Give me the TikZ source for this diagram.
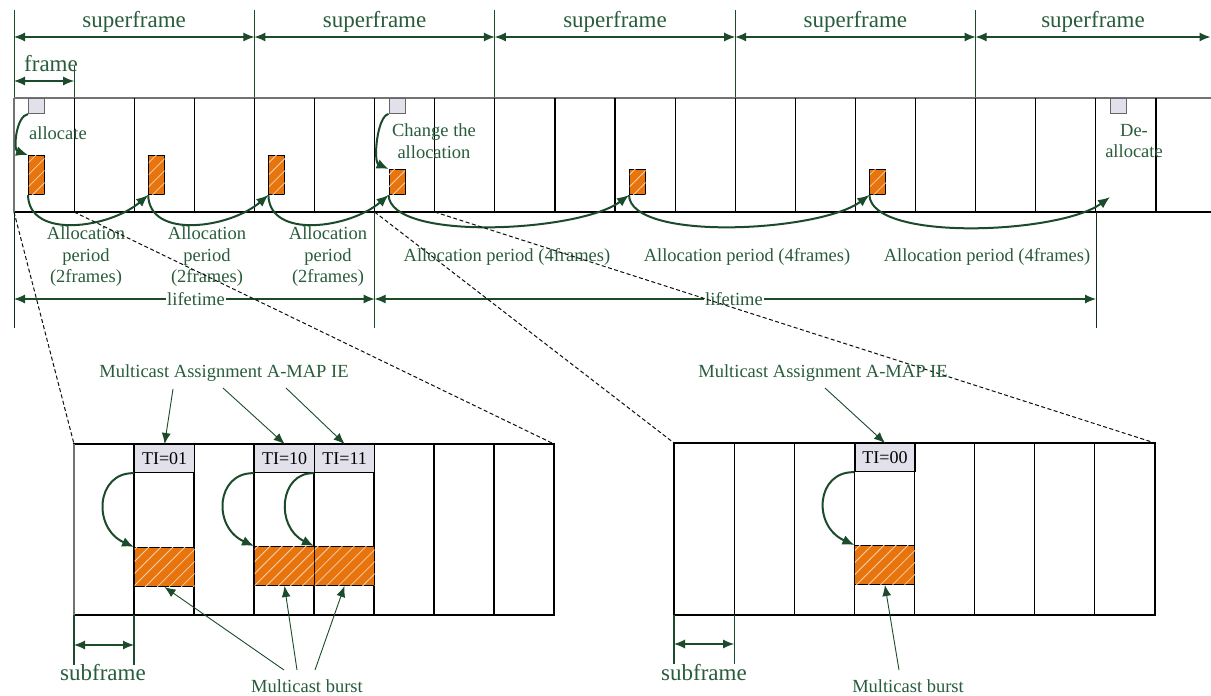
\documentclass[tikz,border=0pt]{standalone}
\usepackage{fontspec}
\setmainfont{Liberation Serif}
\usetikzlibrary{arrows.meta,patterns.meta}
\definecolor{grn}{RGB}{27,75,42}
\definecolor{txtg}{RGB}{40,92,58}
\definecolor{burstc}{RGB}{232,116,14}
\definecolor{hatchc}{RGB}{248,210,175}
\definecolor{mapf}{RGB}{226,224,234}
\tikzset{
  big/.style={font=\fontsize{23}{26}\selectfont, text=txtg, inner sep=0},
  mid/.style={font=\fontsize{18.5}{21.5}\selectfont, text=txtg, inner sep=0, align=center},
  gridline/.style={line width=1.2pt, black},
  greyline/.style={line width=1.2pt, black!55},
  dimarr/.style={grn, line width=1.1pt, {Latex[length=11pt,width=9pt]}-{Latex[length=11pt,width=9pt]}},
  guide/.style={grn, line width=1pt},
  carr/.style={grn, line width=2pt, -{Latex[length=12pt,width=10pt]}},
  tarr/.style={grn, line width=0.9pt, -{Latex[length=11pt,width=9pt]}},
  zoomline/.style={black!75!grn, line width=1pt, dash pattern=on 4pt off 2.5pt},
  burstbox/.style={draw=black, line width=1pt, fill=burstc, inner sep=0, anchor=north west,
     postaction={pattern={Lines[angle=45,distance=8.5pt,line width=0.8pt]}, pattern color=hatchc}},
  mapbox/.style={draw=black!60, line width=1pt, fill=mapf, inner sep=0, anchor=north west,
     minimum width=16pt, minimum height=15pt},
  tibox/.style={draw=black, line width=1.2pt, fill=mapf, inner sep=0, anchor=north west,
     minimum width=60pt, minimum height=28pt, font=\fontsize{18}{20}\selectfont},
}
\begin{document}
\begin{tikzpicture}[x=1pt,y=-1pt]
\useasboundingbox (0,0) rectangle (1211,696);

% ---------- superframes ----------
\foreach \i in {0,...,4} {
  \draw[guide] ({14+240.4*\i},10) -- ({14+240.4*\i},98);
  \coordinate (sa\i) at ({14+240.4*\i},37);
}
\coordinate (sa5) at (1210.5,37);
\foreach \i [count=\j] in {0,...,4} \draw[dimarr] (sa\i) -- (sa\j);
\foreach \i in {0,...,3} \node[big] (sf\i) at ({134.2+240.4*\i},22) {superframe};
\node[big] (sf4) at (1093,22) {superframe};

% ---------- frame ----------
\draw[guide] (74.1,66) -- (74.1,98);
\coordinate (fa) at (14,81);
\coordinate (fb) at (74.1,81);
\draw[dimarr] (fa) -- (fb);
\node[big] (fr) at (51,64) {frame};

% ---------- timeline ----------
\draw[greyline] (14,98) -- (1211,98);
\draw[gridline] (14,212) -- (1211,212);
\draw[greyline] (14,98) -- (14,212);
\foreach \i in {1,...,19} \draw[gridline] ({14+60.1*\i},98) -- ({14+60.1*\i},212);

% MAP boxes
\node[mapbox] (m1) at (28,98) {};
\node[mapbox] (m2) at (388.6,98) {};
\node[mapbox] (m3) at (1110,98) {};

% bursts
\node[burstbox, minimum width=16pt, minimum height=39pt] (b1) at (28,155) {};
\node[burstbox, minimum width=16pt, minimum height=39pt] (b2) at (148.2,155) {};
\node[burstbox, minimum width=16pt, minimum height=39pt] (b3) at (268.4,155) {};
\node[burstbox, minimum width=16pt, minimum height=25pt] (b4) at (388.6,169) {};
\node[burstbox, minimum width=16pt, minimum height=25pt] (b5) at (629,169) {};
\node[burstbox, minimum width=16pt, minimum height=25pt] (b6) at (869.4,169) {};
\coordinate (dl) at (1110,197);

% labels in timeline
\node[mid] (alc) at (58,133) {allocate};
\node[mid] (chg) at (434,141) {Change the\\allocation};
\node[mid] (dea) at (1134,141) {De-\\allocate};

% curved arrows
\draw[carr] (m1.south west) .. controls (16,116) and (13,150) .. (b1.north west);
\draw[carr] (m2.south west) .. controls (377,116) and (373,162) .. (b4.north west);
\draw[carr] (b1.south west) .. controls (29,240) and (110,228) .. (b2.south west);
\draw[carr] (b2.south west) .. controls (149.2,240) and (230.2,228) .. (b3.south west);
\draw[carr] (b3.south west) .. controls (269.4,240) and (350.4,228) .. (b4.south west);
\draw[carr] (b4.south west) .. controls (390,242) and (580,232) .. (b5.south west);
\draw[carr] (b5.south west) .. controls (630,242) and (820,232) .. (b6.south west);
\draw[carr] (b6.south west) .. controls (871,242) and (1060,234) .. (dl);

% allocation period labels
\node[mid] (ap1) at (86,257) {Allocation\\period\\(2frames)};
\node[mid] (ap2) at (207,257) {Allocation\\period\\(2frames)};
\node[mid] (ap3) at (328,257) {Allocation\\period\\(2frames)};
\node[mid] (ap4) at (507,257) {Allocation period (4frames)};
\node[mid] (ap5) at (747,257) {Allocation period (4frames)};
\node[mid] (ap6) at (987,257) {Allocation period (4frames)};

% lifetime
\draw[guide, black!40!grn] (14,212) -- (14,328);
\draw[guide] (374.6,212) -- (374.6,328);
\draw[guide, black!40!grn] (1096,212) -- (1096,328);
\coordinate (l0) at (14,299);
\coordinate (l1) at (374.6,299);
\coordinate (l2) at (1096,299);
\draw[dimarr] (l0) -- (l1);
\draw[dimarr] (l1) -- (l2);
\node[mid, fill=white, inner sep=1pt] (lt1) at (196,299) {lifetime};
\node[mid, fill=white, inner sep=1pt] (lt2) at (734,299) {lifetime};

% ---------- zoom lines ----------
\coordinate (za) at (14,212);
\coordinate (zb) at (74.1,212);
\coordinate (zc) at (374.6,212);
\coordinate (zd) at (434.7,212);
\coordinate (pa) at (74,444);
\coordinate (pb) at (554,444);
\coordinate (pc) at (674,443);
\coordinate (pd) at (1155,443);
\draw[zoomline] (za) -- (pa);
\draw[zoomline] (zb) -- (pb);
\draw[zoomline] (zc) -- (pc);
\draw[zoomline] (zd) -- (pd);

% ---------- left panel ----------
\draw[gridline] (74,444) rectangle (554,615);
\draw[greyline] (74,444) -- (74,615);
\foreach \i in {1,...,7} \draw[gridline] ({74+60*\i},444) -- ({74+60*\i},615);
\node[tibox] (t1) at (134,444) {TI=01};
\node[tibox] (t2) at (254,444) {TI=10};
\node[tibox] (t3) at (314,444) {TI=11};
\node[burstbox, minimum width=60pt, minimum height=39pt] (p1) at (134,547) {};
\node[burstbox, minimum width=60pt, minimum height=39pt] (p2) at (254,546) {};
\node[burstbox, minimum width=60pt, minimum height=39pt] (p3) at (314,546) {};
\draw[carr] (t1.south west) .. controls (96,472) and (92,528) .. (p1.north west);
\draw[carr] (t2.south west) .. controls (216,472) and (212,527) .. (p2.north west);
\draw[carr] (t3.south west) .. controls (279,472) and (275,527) .. (p3.north west);

\node[mid] (ma1) at (224,373) {Multicast Assignment A-MAP IE};
\coordinate (ma1a) at (173,389);
\coordinate (ma1b) at (223,388);
\coordinate (ma1c) at (286,388);
\draw[tarr] (ma1a) -- (t1.north);
\draw[tarr] (ma1b) -- (t2.north);
\draw[tarr] (ma1c) -- (t3.north);

\node[mid] (mb1) at (307,686) {Multicast burst};
\coordinate (mb1a) at (284,670);
\coordinate (mb1b) at (297,670);
\coordinate (mb1c) at (315,670);
\draw[tarr] (mb1a) -- (p1.south);
\draw[tarr] (mb1b) -- (p2.south);
\draw[tarr] (mb1c) -- (p3.south);

\draw[guide, line width=1.2pt] (74,615) -- (74,665);
\draw[guide, line width=1.2pt] (134,615) -- (134,665);
\coordinate (sb0) at (74,645);
\coordinate (sb1) at (134,645);
\draw[dimarr] (sb0) -- (sb1);
\node[big] (sbl1) at (103,673) {subframe};

% ---------- right panel ----------
\draw[gridline] (674,443) rectangle (1155,615);
\foreach \i in {1,...,7} \draw[gridline] ({674+60.125*\i},443) -- ({674+60.125*\i},615);
\node[tibox] (t4) at (854.4,443) {TI=00};
\node[burstbox, minimum width=60pt, minimum height=39pt] (p4) at (854.4,545) {};
\draw[carr] (t4.south west) .. controls (816,471) and (812,526) .. (p4.north west);

\node[mid] (ma2) at (823,373) {Multicast Assignment A-MAP IE};
\coordinate (ma2a) at (825,388);
\draw[tarr] (ma2a) -- (t4.north);
\node[mid] (mb2) at (908,686) {Multicast burst};
\coordinate (mb2a) at (899,670);
\draw[tarr] (mb2a) -- (p4.south);

\draw[guide, line width=1.2pt] (674,615) -- (674,664);
\draw[guide, line width=1.2pt] (734.1,615) -- (734.1,664);
\coordinate (sb2) at (674,644);
\coordinate (sb3) at (734.1,644);
\draw[dimarr] (sb2) -- (sb3);
\node[big] (sbl2) at (704,673) {subframe};
\end{tikzpicture}
\end{document}
